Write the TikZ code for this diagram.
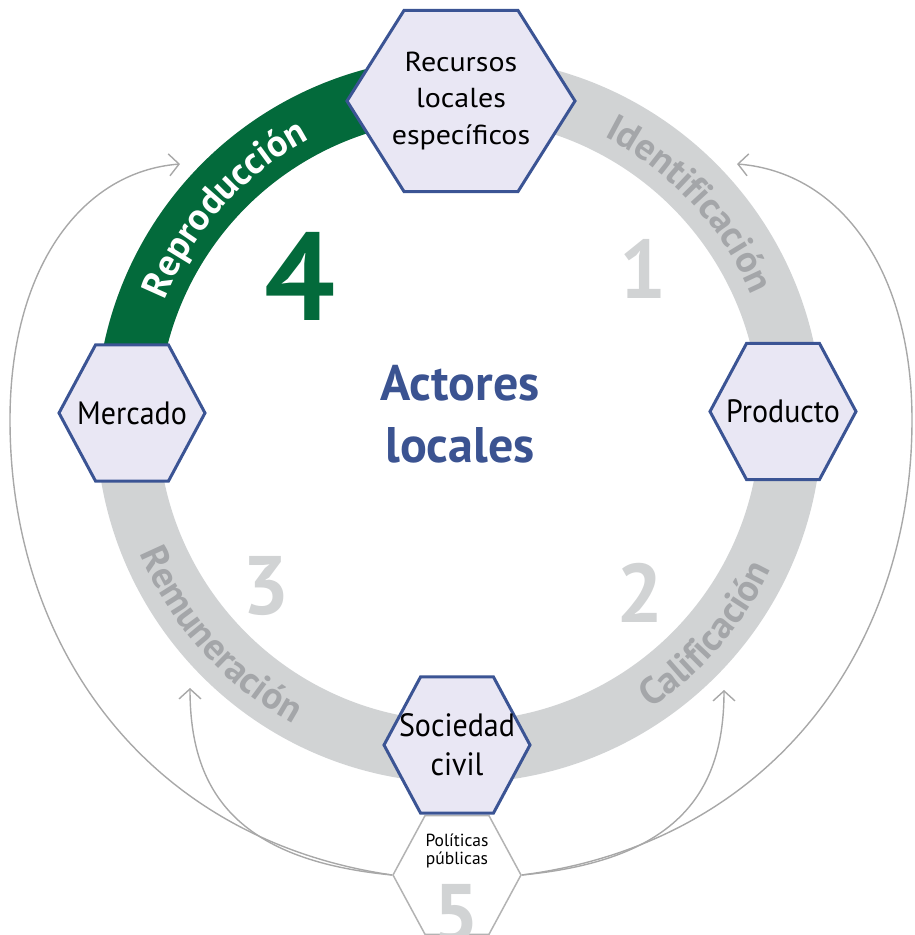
\documentclass[tikz,border=0pt]{standalone}
\usepackage{fontspec}
\setmainfont{PT Sans}
\usetikzlibrary{shapes.geometric,decorations.text,arrows.meta}
\definecolor{ringgrey}{HTML}{D1D3D4}
\definecolor{arcgrey}{HTML}{A4A6A9}
\definecolor{dkgreen}{HTML}{036A3B}
\definecolor{hexfill}{HTML}{E9E7F4}
\definecolor{hexblue}{HTML}{3B5494}
\definecolor{titleblue}{HTML}{3B5391}
\definecolor{curvegrey}{HTML}{A8A8A8}
\definecolor{polgrey}{HTML}{B3B3B3}
\begin{document}
\begin{tikzpicture}[x=1pt,y=1pt,
  hexa/.style={regular polygon, regular polygon sides=6, draw=hexblue, fill=hexfill,
    line width=3pt, inner sep=-40pt, align=center, text=black,
    font=\fontsize{30}{36}\selectfont},
  polhex/.style={regular polygon, regular polygon sides=6, draw=polgrey, fill=white,
    line width=1.5pt, inner sep=-20pt},
  feedback/.style={draw=curvegrey, line width=1.4pt,
    -{Straight Barb[length=10pt,width=22pt,line width=1.4pt]}},
  bignum/.style={font=\fontsize{83}{83}\bfseries\selectfont, text=ringgrey, inner sep=0pt},
  ringtext/.style={decorate, decoration={text along path, text align=center,
    text color=#1}},
]
\useasboundingbox (0,0) rectangle (915,935);
\coordinate (c) at (459,515);
% ring
\draw[ringgrey, line width=62pt] (c) circle[radius=332pt];
\draw[dkgreen, line width=62pt] ([shift={(180:332pt)}]c) arc[start angle=180, end angle=88, radius=332pt];
% ring texts
\path[ringtext=white, decoration={text={|\fontsize{38}{40}\bfseries\selectfont|Reproducción}}]
  ([shift={(180:318pt)}]c) arc[start angle=180, end angle=96, radius=318pt];
\path[ringtext=arcgrey, decoration={text={|\fontsize{38}{40}\bfseries\selectfont|Identificación}}]
  ([shift={(86:318pt)}]c) arc[start angle=86, end angle=0, radius=318pt];
\path[ringtext=arcgrey, decoration={text={|\fontsize{38}{40}\bfseries\selectfont|Calificación}}]
  ([shift={(-82:346pt)}]c) arc[start angle=-82, end angle=0, radius=346pt];
\path[ringtext=arcgrey, decoration={text={|\fontsize{38}{40}\bfseries\selectfont|Remuneración}}]
  ([shift={(180:346pt)}]c) arc[start angle=180, end angle=264, radius=346pt];
% numbers
\node[bignum, text=dkgreen, font=\fontsize{125}{125}\bfseries\selectfont] (n4) at (300,659) {4};
\node[bignum] (n1) at (643,666) {1};
\node[bignum] (n2) at (640,342) {2};
\node[bignum] (n3) at (266,349) {3};
% centre title
\node[align=center, text=titleblue, font=\fontsize{50}{62}\bfseries\selectfont, inner sep=0pt] (title) at (460,521) {Actores\\locales};
% feedback targets
\coordinate (aOL) at (180,771);
\coordinate (aOR) at (737,771);
\coordinate (aIL) at (190,247);
\coordinate (aIR) at (724,245);
% politicas hexagon
\node[polhex, minimum size=128pt, yscale=1.07] (pp) at (457,60) {};
\node[font=\fontsize{17.5}{17.5}\selectfont, align=center, inner sep=0pt] (pptxt) at (457,84) {Políticas\\públicas};
\node[bignum] (n5) at (456,21) {5};
% feedback curves
\draw[feedback] (pp.west) .. controls (150,95) and (10,285) .. (10,515) .. controls (10,665) and (80,763) .. (aOL);
\draw[feedback] (pp.east) .. controls (770,92) and (912,285) .. (912,515) .. controls (912,665) and (840,763) .. (aOR);
\draw[feedback] (pp.west) .. controls (235,75) and (190,145) .. (aIL);
\draw[feedback] (pp.east) .. controls (680,75) and (724,145) .. (aIR);
% hexagons
\node[hexa, minimum size=228pt, yscale=0.917, font=\fontsize{30}{40}\selectfont] (rls) at (461,834) {Recursos\\locales\\específicos};
\node[hexa, minimum size=146pt, yscale=1.076] (merc) at (132,522) {Mercado};
\node[hexa, minimum size=146pt, yscale=1.076] (prod) at (783,523.5) {Producto};
\node[hexa, minimum size=146pt, yscale=1.076] (soc) at (457,190) {Sociedad\\civil};
\end{tikzpicture}
\end{document}
